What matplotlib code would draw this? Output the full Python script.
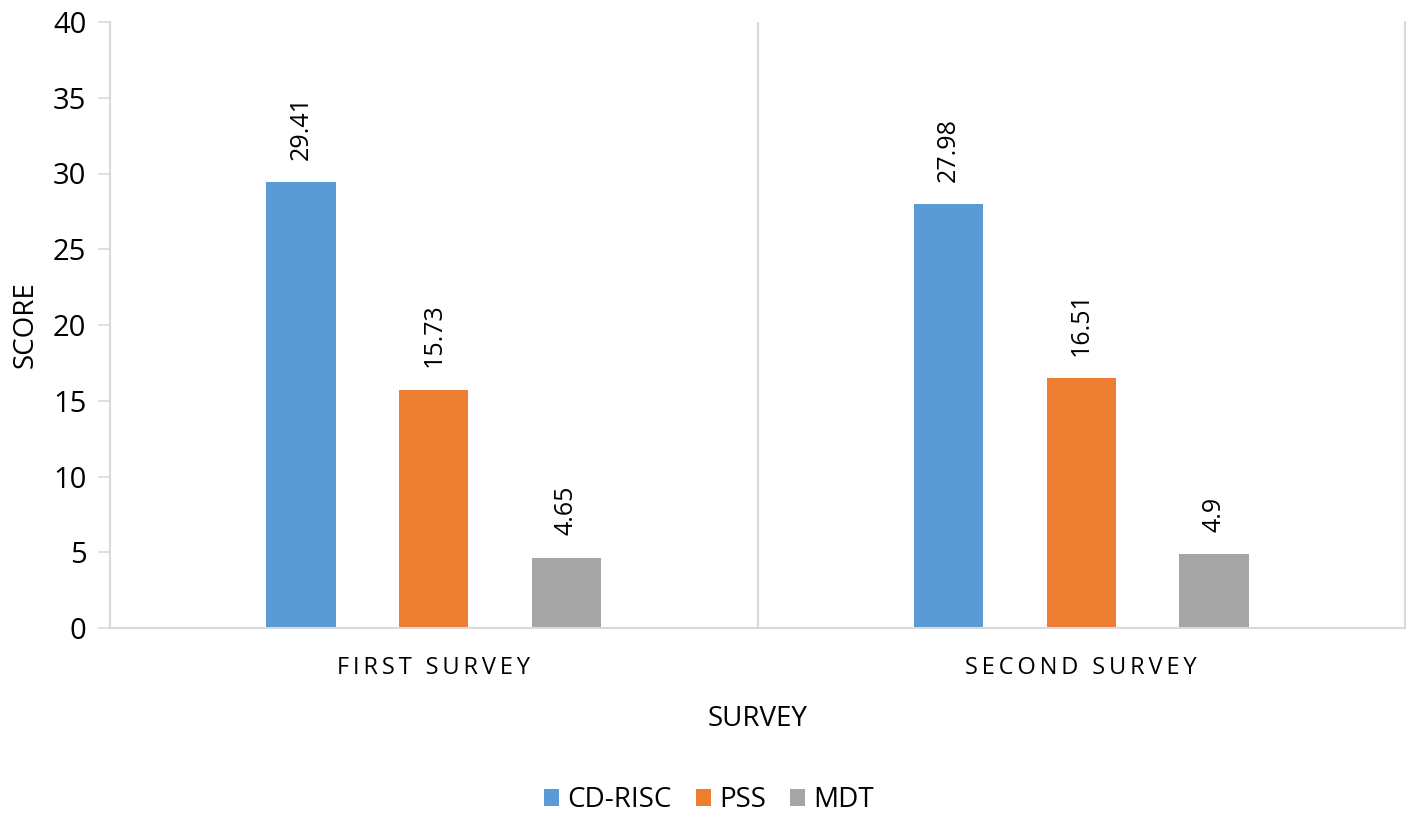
import numpy as np
import matplotlib.pyplot as plt

plt.rcParams['font.family'] = ['Open Sans', 'DejaVu Sans']

surveys = ['FIRST SURVEY', 'SECOND SURVEY']
series = ['CD-RISC', 'PSS', 'MDT']
values = {
    'CD-RISC': [29.41, 27.98],
    'PSS': [15.73, 16.51],
    'MDT': [4.65, 4.9],
}
value_text = {
    'CD-RISC': ['29.41', '27.98'],
    'PSS': ['15.73', '16.51'],
    'MDT': ['4.65', '4.9'],
}
colours = ['#5B9BD5', '#ED7D31', '#A5A5A5']
yticks = [0, 5, 10, 15, 20, 25, 30, 35, 40]

grey = '#d9d9d9'

fig = plt.figure(figsize=(14.18, 8.18), dpi=100)
ax = fig.add_axes([110 / 1418, 1 - 628 / 818, (1405 - 110) / 1418, (628 - 22) / 818])

x = np.arange(len(surveys))
width = 0.107
offsets = [-0.205, 0, 0.205]
for s, c, off in zip(series, colours, offsets):
    bars = ax.bar(x + off, values[s], width, color=c, label=s, zorder=2)
    for b, t in zip(bars, value_text[s]):
        ax.annotate(t, (b.get_x() + b.get_width() / 2, b.get_height()),
                    xytext=(0, 16), textcoords='offset points',
                    rotation=90, ha='center', va='bottom', fontsize=18,
                    color='#000000')

ax.set_xlim(-0.5, len(surveys) - 0.5)
ax.set_ylim(0, 40)
ax.set_yticks(yticks)
ax.tick_params(axis='y', labelsize=21, length=9, width=1.2, color=grey, pad=8)

# spaced-out category labels, like the original
sp = '\u2009'
ax.set_xticks(x)
ax.set_xticklabels([sp.join(list(s)) for s in surveys], fontsize=17)
ax.tick_params(axis='x', length=0, pad=20)

ax.spines['top'].set_visible(False)
for side in ['left', 'right', 'bottom']:
    ax.spines[side].set_color(grey)
    ax.spines[side].set_linewidth(1.5)
ax.axvline(0.5, color=grey, lw=1.5, zorder=1)

ax.set_ylabel('SCORE', fontsize=20, labelpad=10)
ax.set_xlabel('SURVEY', fontsize=20, labelpad=18)

fig.legend(loc='center', bbox_to_anchor=(0.5, 1 - 800 / 818), ncol=3, frameon=False,
           fontsize=20, handlelength=0.55, handleheight=0.55, handletextpad=0.3,
           columnspacing=0.85)

fig.savefig('out.png', dpi=100)
